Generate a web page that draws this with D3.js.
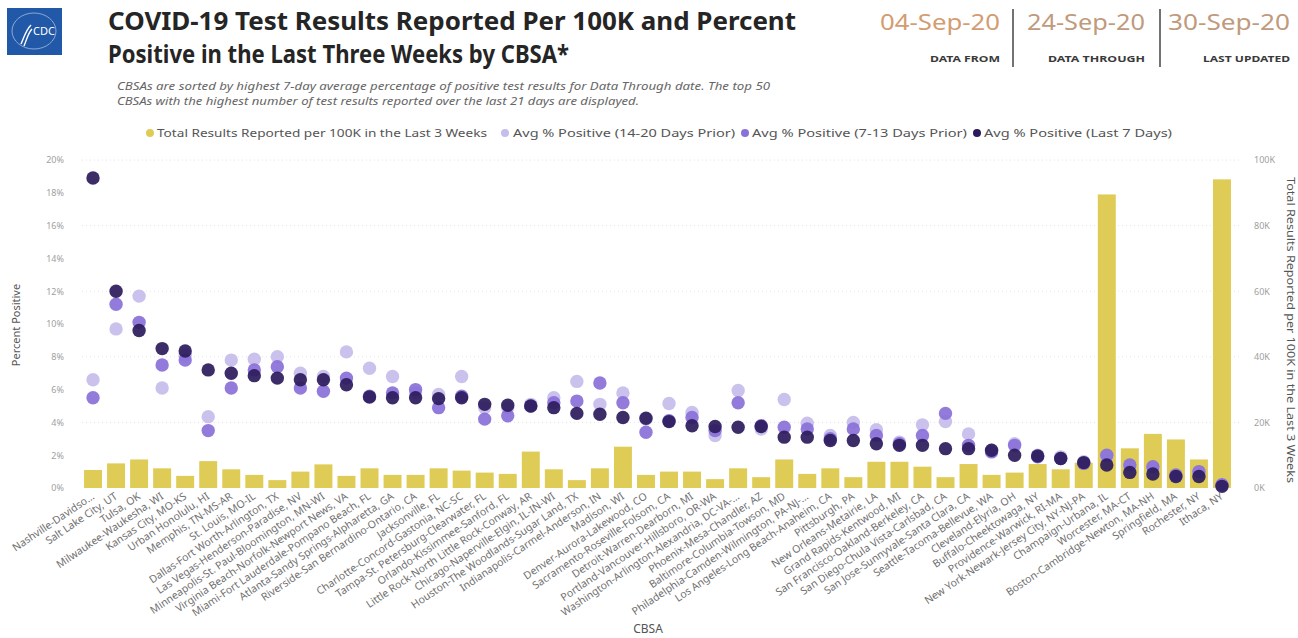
<!DOCTYPE html>
<html>
<head>
<meta charset="utf-8">
<script src="https://cdn.jsdelivr.net/npm/d3@7"></script>
<style>
  html, body { margin: 0; padding: 0; background: #ffffff; }
  svg { display: block; }
  text { font-family: "Noto Sans", "Open Sans", sans-serif; }
</style>
</head>
<body>
<svg id="chart" width="1298" height="638"></svg>
<script>
// Core-based statistical areas, sorted by 7-day average percent positive
const categories = [
  "Nashville-Davidso…", "Salt Lake City, UT", "Tulsa, OK", "Milwaukee-Waukesha, WI",
  "Kansas City, MO-KS", "Urban Honolulu, HI", "Memphis, TN-MS-AR", "St. Louis, MO-IL",
  "Dallas-Fort Worth-Arlington, TX", "Las Vegas-Henderson-Paradise, NV",
  "Minneapolis-St. Paul-Bloomington, MN-WI", "Virginia Beach-Norfolk-Newport News, VA",
  "Miami-Fort Lauderdale-Pompano Beach, FL", "Atlanta-Sandy Springs-Alpharetta, GA",
  "Riverside-San Bernardino-Ontario, CA", "Jacksonville, FL", "Charlotte-Concord-Gastonia, NC-SC",
  "Tampa-St. Petersburg-Clearwater, FL", "Orlando-Kissimmee-Sanford, FL",
  "Little Rock-North Little Rock-Conway, AR", "Chicago-Naperville-Elgin, IL-IN-WI",
  "Houston-The Woodlands-Sugar Land, TX", "Indianapolis-Carmel-Anderson, IN", "Madison, WI",
  "Denver-Aurora-Lakewood, CO", "Sacramento-Roseville-Folsom, CA", "Detroit-Warren-Dearborn, MI",
  "Portland-Vancouver-Hillsboro, OR-WA", "Washington-Arlington-Alexandria, DC-VA-…",
  "Phoenix-Mesa-Chandler, AZ", "Baltimore-Columbia-Towson, MD",
  "Philadelphia-Camden-Wilmington, PA-NJ-…", "Los Angeles-Long Beach-Anaheim, CA",
  "Pittsburgh, PA", "New Orleans-Metairie, LA", "Grand Rapids-Kentwood, MI",
  "San Francisco-Oakland-Berkeley, CA", "San Diego-Chula Vista-Carlsbad, CA",
  "San Jose-Sunnyvale-Santa Clara, CA", "Seattle-Tacoma-Bellevue, WA", "Cleveland-Elyria, OH",
  "Buffalo-Cheektowaga, NY", "Providence-Warwick, RI-MA", "New York-Newark-Jersey City, NY-NJ-PA",
  "Champaign-Urbana, IL", "Worcester, MA-CT", "Boston-Cambridge-Newton, MA-NH",
  "Springfield, MA", "Rochester, NY", "Ithaca, NY"
];

// Total test results reported per 100K over the last 3 weeks
const totalPer100K = [
  5500, 7500, 8700, 6000, 3700, 8200, 5700, 4000, 2400, 5000,
  7200, 3700, 6000, 4000, 4000, 6000, 5300, 4700, 4300, 11100,
  5700, 2400, 6000, 12600, 4000, 5000, 5000, 2700, 6000, 3300,
  8700, 4300, 6000, 3300, 8000, 8000, 6500, 3300, 7300, 4000,
  4700, 7300, 5700, 7700, 89500, 12100, 16500, 14800, 8700, 94100
];

// Average percent positive, 14-20 days prior
const pct14to20 = [
  6.6, 9.7, 11.7, 6.1, 8.1, 4.35, 7.8, 7.85, 8.0, 7.0,
  6.8, 8.3, 7.3, 6.8, 5.8, 5.7, 6.8, 4.9, 4.9, 5.1,
  5.5, 6.5, 5.1, 5.8, 4.2, 5.15, 4.6, 3.2, 5.95, 3.6,
  5.4, 3.95, 3.2, 4.0, 3.55, 2.8, 3.85, 4.05, 3.3, 2.3,
  2.7, 2.0, 1.9, 1.6, 1.9, 1.3, 1.2, 0.7, 0.9, 0.2
];

// Average percent positive, 7-13 days prior
const pct7to13 = [
  5.5, 11.2, 10.1, 7.5, 7.8, 3.5, 6.1, 7.2, 7.4, 6.1,
  5.9, 6.7, 5.6, 5.8, 6.0, 4.9, 5.6, 4.2, 4.4, 5.0,
  5.2, 5.3, 6.4, 5.2, 3.4, 4.1, 4.3, 3.5, 5.2, 3.8,
  3.7, 3.6, 3.0, 3.6, 3.2, 2.7, 3.2, 4.55, 2.6, 2.2,
  2.6, 1.9, 1.8, 1.5, 2.0, 1.4, 1.3, 0.8, 1.0, 0.2
];

// Average percent positive, last 7 days
const pctLast7 = [
  18.9, 12.0, 9.6, 8.5, 8.35, 7.2, 7.0, 6.85, 6.7, 6.6,
  6.6, 6.3, 5.55, 5.5, 5.5, 5.45, 5.5, 5.1, 5.05, 5.0,
  4.9, 4.55, 4.5, 4.3, 4.25, 4.05, 3.8, 3.75, 3.7, 3.75,
  3.1, 3.1, 2.9, 2.9, 2.7, 2.6, 2.6, 2.4, 2.4, 2.3,
  2.0, 1.95, 1.8, 1.55, 1.4, 0.95, 0.85, 0.7, 0.7, 0.1
];

const percentTicks = [0, 2, 4, 6, 8, 10, 12, 14, 16, 18, 20];
const totalTicks = [0, 20000, 40000, 60000, 80000, 100000];
const gridTicks = [4, 8, 12, 16, 20];

const seriesNames = [
  "Total Results Reported per 100K in the Last 3 Weeks",
  "Avg % Positive (14-20 Days Prior)",
  "Avg % Positive (7-13 Days Prior)",
  "Avg % Positive (Last 7 Days)"
];
const seriesColors = ["#dfcc57", "#c6bdeb", "#8a70d8", "#2b1b5c"];

const svg = d3.select("#chart");

// ---- header ----
const logo = svg.append("g");
logo.append("rect").attr("x", 7).attr("y", 8).attr("width", 55).attr("height", 47).attr("fill", "#2159a8");
logo.append("ellipse").attr("cx", 34).attr("cy", 31).attr("rx", 22).attr("ry", 18)
  .attr("fill", "none").attr("stroke", "#ffffff").attr("stroke-width", 0.8).attr("opacity", 0.6);
logo.append("path")
  .attr("d", "M21,44 C24,37 26,30 31,25 M24,46 C27,39 28,33 32,29")
  .attr("fill", "none").attr("stroke", "#ffffff").attr("stroke-width", 1.4);
logo.append("text").attr("x", 44).attr("y", 35).attr("text-anchor", "middle")
  .attr("font-family", "Liberation Serif, serif").attr("font-size", 11).attr("fill", "#ffffff")
  .text("CDC");

svg.append("text").attr("x", 108).attr("y", 30)
  .attr("font-size", 25).attr("font-weight", 700).attr("fill", "#252525")
  .attr("textLength", 688).attr("lengthAdjust", "spacingAndGlyphs")
  .text("COVID-19 Test Results Reported Per 100K and Percent");
svg.append("text").attr("x", 108).attr("y", 63)
  .attr("font-size", 25).attr("font-weight", 700).attr("fill", "#252525")
  .attr("textLength", 461).attr("lengthAdjust", "spacingAndGlyphs")
  .text("Positive in the Last Three Weeks by CBSA*");

svg.append("text").attr("x", 117).attr("y", 90)
  .attr("font-size", 10).attr("font-style", "italic").attr("fill", "#666")
  .attr("textLength", 653).attr("lengthAdjust", "spacingAndGlyphs")
  .text("CBSAs are sorted by highest 7-day average percentage of positive test results for Data Through date. The top 50");
svg.append("text").attr("x", 117).attr("y", 105)
  .attr("font-size", 10).attr("font-style", "italic").attr("fill", "#666")
  .attr("textLength", 522).attr("lengthAdjust", "spacingAndGlyphs")
  .text("CBSAs with the highest number of test results reported over the last 21 days are displayed.");

const dateBlocks = [
  { date: "04-Sep-20", label: "DATA FROM", x0: 880, x1: 1000, lw: 70, color: "#d39c72" },
  { date: "24-Sep-20", label: "DATA THROUGH", x0: 1027, x1: 1145, lw: 97, color: "#bf9a7c" },
  { date: "30-Sep-20", label: "LAST UPDATED", x0: 1168, x1: 1290, lw: 87, color: "#bf9a7c" }
];
dateBlocks.forEach(d => {
  svg.append("text").attr("x", d.x0).attr("y", 30)
    .attr("font-family", "DejaVu Sans, sans-serif")
    .attr("font-size", 22).attr("fill", d.color)
    .attr("textLength", d.x1 - d.x0).attr("lengthAdjust", "spacingAndGlyphs")
    .text(d.date);
  svg.append("text").attr("x", d.x1 - d.lw).attr("y", 62)
    .attr("font-size", 9.5).attr("font-weight", 700).attr("fill", "#3a3a3a")
    .attr("textLength", d.lw).attr("lengthAdjust", "spacingAndGlyphs")
    .text(d.label);
});
[1013, 1160].forEach(x => {
  svg.append("line").attr("x1", x).attr("x2", x).attr("y1", 9).attr("y2", 67)
    .attr("stroke", "#444").attr("stroke-width", 1.5);
});

// ---- legend ----
const legendItems = [
  { cx: 150, tx: 157, tw: 330 },
  { cx: 505, tx: 513, tw: 222 },
  { cx: 745, tx: 752, tw: 215 },
  { cx: 977, tx: 984, tw: 188 }
];
legendItems.forEach((it, i) => {
  svg.append("circle").attr("cx", it.cx).attr("cy", 133).attr("r", 4).attr("fill", seriesColors[i]);
  svg.append("text").attr("x", it.tx).attr("y", 137)
    .attr("font-size", 11).attr("fill", "#555")
    .attr("textLength", it.tw).attr("lengthAdjust", "spacingAndGlyphs")
    .text(seriesNames[i]);
});

// ---- scales ----
const x = d3.scaleBand().domain(categories).range([81.5, 1233.5])
  .paddingInner(0.22).paddingOuter(0.11);
const yPct = d3.scaleLinear().domain([0, 20]).range([488, 160]);
const yTotal = d3.scaleLinear().domain([0, 100000]).range([488, 160]);

// faint dotted gridlines
svg.append("g").selectAll("line").data(gridTicks).join("line")
  .attr("x1", 82).attr("x2", 1240)
  .attr("y1", d => yPct(d)).attr("y2", d => yPct(d))
  .attr("stroke", "#e4e4e4").attr("stroke-width", 1).attr("stroke-dasharray", "1,3");

// left axis
const leftAxis = svg.append("g").attr("transform", "translate(64,0)")
  .call(d3.axisLeft(yPct).tickValues(percentTicks).tickFormat(d => d + "%").tickSize(0).tickPadding(0));
leftAxis.select(".domain").remove();
leftAxis.selectAll("text").attr("font-size", 9).attr("fill", "#a0a0a0")
  .attr("font-family", "Noto Sans, sans-serif");

// right axis
const rightAxis = svg.append("g").attr("transform", "translate(1254,0)")
  .call(d3.axisRight(yTotal).tickValues(totalTicks).tickFormat(d => (d / 1000) + "K").tickSize(0).tickPadding(0));
rightAxis.select(".domain").remove();
rightAxis.selectAll("text").attr("font-size", 9).attr("fill", "#a0a0a0")
  .attr("font-family", "Noto Sans, sans-serif");

// axis titles
svg.append("text").attr("transform", "translate(20,325) rotate(-90)")
  .attr("text-anchor", "middle").attr("font-size", 11).attr("fill", "#555")
  .text("Percent Positive");
svg.append("text").attr("transform", "translate(1287,330) rotate(90)")
  .attr("text-anchor", "middle").attr("font-size", 11).attr("fill", "#555")
  .attr("textLength", 306).attr("lengthAdjust", "spacingAndGlyphs")
  .text("Total Results Reported per 100K in the Last 3 Weeks");
svg.append("text").attr("x", 648).attr("y", 633).attr("text-anchor", "middle")
  .attr("font-size", 12).attr("fill", "#555").text("CBSA");

// ---- bars ----
svg.append("g").selectAll("rect").data(categories).join("rect")
  .attr("x", d => x(d)).attr("width", x.bandwidth())
  .attr("y", (d, i) => yTotal(totalPer100K[i]))
  .attr("height", (d, i) => yTotal(0) - yTotal(totalPer100K[i]))
  .attr("fill", seriesColors[0]);

// ---- dots ----
[pct14to20, pct7to13, pctLast7].forEach((vals, s) => {
  svg.append("g").selectAll("circle").data(categories).join("circle")
    .attr("cx", d => x(d) + x.bandwidth() / 2)
    .attr("cy", (d, i) => yPct(vals[i]))
    .attr("r", 6.7)
    .attr("fill", seriesColors[s + 1])
    .attr("fill-opacity", 0.92);
});

// ---- category labels ----
svg.append("g").selectAll("text").data(categories).join("text")
  .attr("transform", d => `translate(${x(d) + x.bandwidth() / 2 + 2},${498}) rotate(-34)`)
  .attr("text-anchor", "end")
  .attr("font-size", 10.5).attr("fill", "#707070")
  .text(d => d);
</script>
</body>
</html>
